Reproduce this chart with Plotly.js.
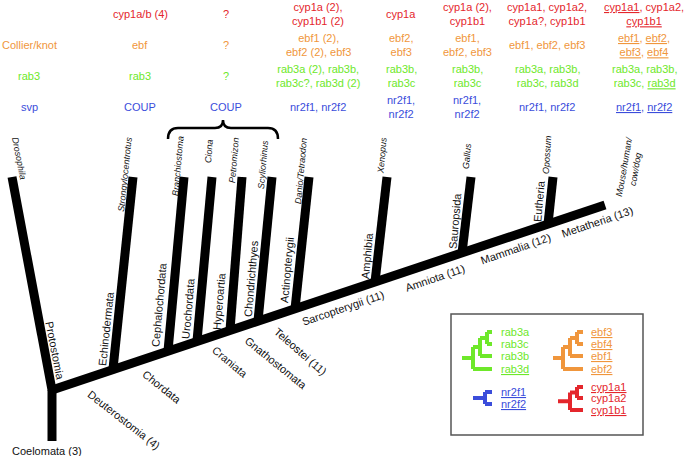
<!DOCTYPE html>
<html><head><meta charset="utf-8">
<script src="https://cdn.plot.ly/plotly-3.0.1.min.js"></script>
<style>html,body{margin:0;padding:0;background:#fff}</style>
</head><body><div id="chart" style="width:685px;height:456px"></div>
<script>
// ---------- tree branches (tip -> base on backbone); last entry = backbone ----------
const taxa = ["Drosophila","Strongylocentrotus","Branchiostoma","Ciona","Petromizon","Scyliorhinus","Danio/Tetraodon","Xenopus","Gallus","Opossum","Mouse/human/<br>cow/dog"];
const tipX  = [12,133,184,212,242,272,309,387,471,553,605];
const tipY  = [177,177,177,177,177,177,177,177,177,177,205];
const baseX = [52,113,168,197,230,258,295,375,462,548,52];
const baseY = [390,369,351,341,330,321,309,282,253,224,390];
const rootX = [52,52];
const rootY = [441,390];

// taxon label placement
const taxaLabX = [19,125,178,209,234,263,301,382,467,547,630];
const taxaLabY = [158,174,166,151,160,165,171,156,156,155,168];
const taxaLabAngle = [79,-84,-85,-85,-85,-85,-85,-85,-85,-86,-80];

// clade labels
const clades = ["Protostomia","Echinodermata","Cephalochordata","Urochordata","Hyperoartia","Chondrichthyes","Actinopterygii","Amphibia","Sauropsida","Eutheria","Deuterostomia (4)","Chordata","Craniata","Gnathostomata","Teleostei (11)","Sarcopterygii (11)","Amniota (11)","Mammalia (12)","Metatheria (13)","Coelomata (3)"];
const cladeX = [55,106,159,188,219,251,287,367,455,539,124,162,230,276,300,343,435,515,597,47];
const cladeY = [351,329,305,309,301,279,270,256,221,201,420,387,362,363,351,308,278,249,222,451];
const cladeAngle = [79,-84,-85,-85,-85,-85,-85,-85,-85,-85,38,39,40,39,41,-19,-19,-19,-19,0];

// ---------- gene table (underlined names marked with _name_) ----------
const geneColX = [29,140,226,318,401,467,547,644];
const cypRow = ["","cyp1a/b (4)","?","cyp1a (2),<br>cyp1b1 (2)","cyp1a","cyp1a (2),<br>cyp1b1","cyp1a1, cyp1a2,<br>cyp1a?, cyp1b1","_cyp1a1_, cyp1a2,<br>_cyp1b1_"];
const ebfRow = ["Collier/knot","ebf","?","ebf1 (2),<br>ebf2 (2), ebf3","ebf2,<br>ebf3","ebf1,<br>ebf2, ebf3","ebf1, ebf2, ebf3","_ebf1_, _ebf2_,<br>_ebf3_, _ebf4_"];
const rabRow = ["rab3","rab3","?","rab3a (2), rab3b,<br>rab3c?, rab3d (2)","rab3b,<br>rab3c","rab3b,<br>rab3c","rab3a, rab3b,<br>rab3c, rab3d","rab3a, rab3b,<br>rab3c, _rab3d_"];
const nrRow  = ["svp","COUP","COUP","nr2f1, nr2f2","nr2f1,<br>nr2f2","nr2f1,<br>nr2f2","nr2f1, nr2f2","_nr2f1_, _nr2f2_"];
const rowY = [14,45,76,107];
const rowColor = ["#e4262c","#f0963c","#6ee82a","#3b4ddb"];

// bracket over Branchiostoma..Scyliorhinus
const bracketX = [168,278];
const bracketY = [139,128,120]; // ends, bar, peak

// ---------- legend mini trees ----------
const legendBox = {x:[451,643], y:[314,435]};
const greenLeaves = ["rab3a","rab3c","rab3b","_rab3d_"], greenY = [332,344,356,369], greenNodes = [487,480,473], greenStem = 462;
const orangeLeaves = ["_ebf3_","_ebf4_","_ebf1_","_ebf2_"], orangeY = [332,344,356,369], orangeNodes = [577,570,563], orangeStem = 553;
const blueLeaves = ["_nr2f1_","_nr2f2_"], blueY = [392,404], blueNodes = [485], blueStem = 473;
const redLeaves = ["_cyp1a1_","cyp1a2","_cyp1b1_"], redY = [387,398,410], redNodes = [577,570], redStem = 558;
const leftLeafEnd = 492, rightLeafEnd = 583, leftTextX = 499, rightTextX = 589;

// ---------- build ----------
const FONT = "Liberation Sans, Arial, Helvetica, sans-serif";
const ul = s => s.replace(/_([^_]+)_/g, '<span style="text-decoration:underline">$1</span>');
const traces = [];
const bx = [], by = [];
for (let i = 0; i < tipX.length; i++) { bx.push(baseX[i], tipX[i], null); by.push(baseY[i], tipY[i], null); }
bx.push(rootX[0], rootX[1]); by.push(rootY[0], rootY[1]);
traces.push({x:bx, y:by, mode:'lines', line:{color:'#000', width:9}, hoverinfo:'skip'});

function ladder(leafY, nodes, stem, leafEnd, color) {
  const x = [], y = [];
  const seg = (x0,y0,x1,y1) => { x.push(x0,x1,null); y.push(y0,y1,null); };
  seg(nodes[0], leafY[0], leafEnd, leafY[0]);
  seg(nodes[0], leafY[1], leafEnd, leafY[1]);
  seg(nodes[0], leafY[0], nodes[0], leafY[1]);
  let mid = (leafY[0] + leafY[1]) / 2;
  for (let k = 1; k < nodes.length; k++) {
    seg(nodes[k], mid, nodes[k-1], mid);
    seg(nodes[k], mid, nodes[k], leafY[k+1]);
    seg(nodes[k], leafY[k+1], leafEnd, leafY[k+1]);
    mid = (mid + leafY[k+1]) / 2;
  }
  seg(stem, mid, nodes[nodes.length-1], mid);
  return {x, y, mode:'lines', line:{color, width:4}, hoverinfo:'skip'};
}
traces.push(ladder(greenY, greenNodes, greenStem, leftLeafEnd, rowColor[2]));
traces.push(ladder(orangeY, orangeNodes, orangeStem, rightLeafEnd, rowColor[1]));
traces.push(ladder(blueY, blueNodes, blueStem, leftLeafEnd, rowColor[3]));
traces.push(ladder(redY, redNodes, redStem, rightLeafEnd, rowColor[0]));

const ann = [];
const A = (x,y,text,opts) => ann.push(Object.assign({x, y, xref:'x', yref:'y', text, showarrow:false, xanchor:'center', yanchor:'middle', font:{family:FONT, size:11, color:'#111'}}, opts||{}));
taxa.forEach((t,i) => A(taxaLabX[i], taxaLabY[i], '<i>'+t+'</i>', {textangle:taxaLabAngle[i], font:{family:FONT, size:9, color:'#111'}}));
clades.forEach((t,i) => A(cladeX[i], cladeY[i], t, {textangle:cladeAngle[i]}));
[cypRow, ebfRow, rabRow, nrRow].forEach((row,r) => row.forEach((t,c) => { if (t) A(geneColX[c], rowY[r], ul(t), {font:{family:FONT, size:11, color:rowColor[r]}}); }));
const legText = (leaves, ys, x, color) => leaves.forEach((t,i) => A(x, ys[i], ul(t), {xanchor:'left', font:{family:FONT, size:11, color}}));
legText(greenLeaves, greenY, leftTextX, rowColor[2]);
legText(orangeLeaves, orangeY, rightTextX, rowColor[1]);
legText(blueLeaves, blueY, leftTextX, rowColor[3]);
legText(redLeaves, redY, rightTextX, rowColor[0]);

const [x0,x1] = bracketX, [yb,ybar,yp] = bracketY, xm = (x0+x1)/2;
const bpath = `M ${x0},${yb} Q ${x0},${ybar} ${x0+10},${ybar} L ${xm-8},${ybar} Q ${xm},${ybar} ${xm},${yp} Q ${xm},${ybar} ${xm+8},${ybar} L ${x1-10},${ybar} Q ${x1},${ybar} ${x1},${yb}`;
const shapes = [
  {type:'path', xref:'x', yref:'y', path:bpath, line:{color:'#000', width:2.5}},
  {type:'rect', xref:'x', yref:'y', x0:legendBox.x[0], x1:legendBox.x[1], y0:legendBox.y[0], y1:legendBox.y[1], line:{color:'#555', width:1.5}}
];

const ax = {visible:false, showgrid:false, zeroline:false, fixedrange:true};
Plotly.newPlot('chart', traces, {
  width:685, height:456, margin:{l:0,r:0,t:0,b:0}, showlegend:false,
  paper_bgcolor:'#fff', plot_bgcolor:'#fff',
  xaxis:Object.assign({range:[0,685]}, ax),
  yaxis:Object.assign({range:[456,0]}, ax),
  annotations:ann, shapes
}, {staticPlot:true});
</script></body></html>
